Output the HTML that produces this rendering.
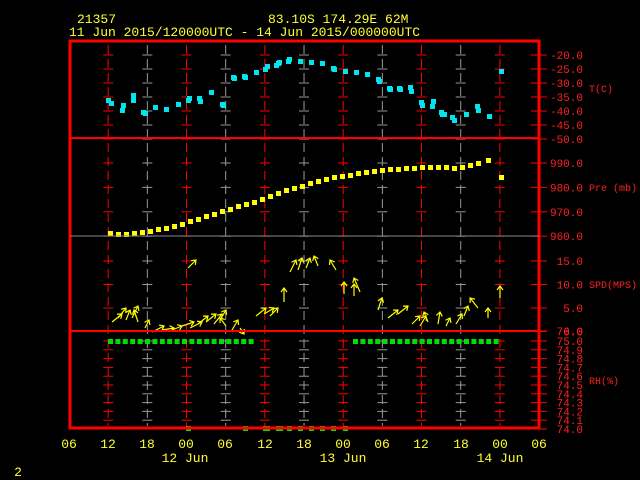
<!DOCTYPE html>
<html><head><style>
html,body{margin:0;padding:0;background:#000;}
svg{display:block;}
text{font-family:"Liberation Mono",monospace;}
</style></head><body>
<svg width="640" height="480" viewBox="0 0 640 480" xmlns="http://www.w3.org/2000/svg">
<rect width="640" height="480" fill="#000"/>
<g fill="#ffff33" font-size="13">
<text x="77" y="23">21357</text>
<text x="268" y="23">83.10S  174.29E   62M</text>
<text x="69" y="36">11 Jun 2015/120000UTC - 14 Jun 2015/000000UTC</text>
</g>
<g id="grid"></g>
<g id="data"></g>
<rect x="70" y="41" width="469" height="387" fill="none" stroke="#ff0000" stroke-width="3"/>
<line x1="70" y1="138" x2="539" y2="138" stroke="#ff0000" stroke-width="2"/>
<line x1="70" y1="236" x2="539" y2="236" stroke="#888" stroke-width="1"/>
<line x1="70" y1="331" x2="539" y2="331" stroke="#ff0000" stroke-width="2"/>
<g fill="#ff2020" font-size="11" text-anchor="end" id="rl"></g>
<g fill="#ff2020" font-size="10">
<text x="589" y="92">T(C)</text>
<text x="589" y="191">Pre (mb)</text>
<text x="589" y="288">SPD(MPS)</text>
<text x="589" y="384">RH(%)</text>
</g>
<g fill="#ffff33" font-size="13" text-anchor="middle">
<text x="69" y="448">06</text><text x="108" y="448">12</text><text x="147" y="448">18</text><text x="186" y="448">00</text><text x="225" y="448">06</text><text x="265" y="448">12</text><text x="304" y="448">18</text><text x="343" y="448">00</text><text x="382" y="448">06</text><text x="421" y="448">12</text><text x="461" y="448">18</text><text x="500" y="448">00</text><text x="539" y="448">06</text>
<text x="185" y="462">12 Jun</text><text x="343" y="462">13 Jun</text><text x="500" y="462">14 Jun</text>
<text x="18" y="476">2</text>
</g>
</svg>
<script>
const NS="http://www.w3.org/2000/svg";
const g=document.getElementById('grid'),d=document.getElementById('data'),rl=document.getElementById('rl');
function el(p,t,a){const e=document.createElementNS(NS,t);for(const k in a)e.setAttribute(k,a[k]);p.appendChild(e);return e;}
const xs=[];for(let k=1;k<12;k++)xs.push(69+k*39.17);
const ys=[];
for(let i=0;i<=6;i++)ys.push([55+i*14,(-20-5*i).toFixed(1)]);
for(let i=0;i<=3;i++)ys.push([163+i*24.4,(990-10*i).toFixed(1)]);
for(let i=0;i<=3;i++)ys.push([261+i*23.5,(15-5*i).toFixed(1)]);
for(let i=0;i<=10;i++)ys.push([341+i*8.8,(75-0.1*i).toFixed(1)]);
ys.push([331,"76.0"]);
xs.forEach((x,i)=>{
 const c=i%2==0?"#ff0000":"#999";
 el(g,'line',{x1:x,y1:45,x2:x,y2:426,stroke:c,'stroke-width':1,'stroke-dasharray':'9,5'});
 ys.forEach(([y])=>{if(y<428)el(g,'line',{x1:x-5,y1:y,x2:x+5,y2:y,stroke:c,'stroke-width':1});});
});
ys.forEach(([y,l])=>{
 el(g,'line',{x1:531,y1:y,x2:547,y2:y,stroke:'#ff0000','stroke-width':1});
 const t=el(rl,'text',{x:583,y:y+4});t.textContent=l;
});
const T=[[108,100],[111,103],[122,110],[123,105],[133,100],[133,95],[143,112],[145,113],[155,107],[166,109],[178,104],[188,100],[189,98],[199,98],[200,101],[211,92],[222,104],[223,105],[233,77],[234,78],[244,76],[245,77],[256,72],[265,69],[267,66],[276,65],[278,63],[279,62],[288,61],[289,59],[300,61],[311,62],[322,63],[333,68],[334,69],[345,71],[356,72],[367,74],[378,79],[379,81],[389,88],[390,89],[399,88],[400,89],[410,87],[411,91],[421,102],[422,105],[432,106],[433,101],[441,112],[442,114],[444,114],[452,117],[454,120],[466,114],[477,106],[478,110],[489,116],[501,71]];
T.forEach(([x,y])=>el(d,'rect',{x:x-2,y:y-2,width:5,height:5,fill:'#00e5ee'}));
const P=[[110,233],[118,234],[126,234],[134,233],[142,232],[150,231],[158,229],[166,228],[174,226],[182,224],[190,221],[198,219],[206,216],[214,214],[222,211],[230,209],[238,206],[246,204],[254,202],[262,199],[270,196],[278,193],[286,190],[294,188],[302,186],[310,183],[318,181],[326,179],[334,177],[342,176],[350,175],[358,173],[366,172],[374,171],[382,170],[390,169],[398,169],[406,168],[414,168],[422,167],[430,167],[438,167],[446,167],[454,168],[462,167],[470,165],[478,163],[488,160],[501,177]];
P.forEach(([x,y])=>el(d,'rect',{x:x-2,y:y-2,width:5,height:5,fill:'#ffff00'}));
const W=[[112,322,10,-8],[118,318,8,-10],[126,320,4,-10],[132,318,6,-12],[138,322,-4,-12],[145,328,4,-8],[152,332,12,-6],[162,330,12,-2],[172,330,10,-4],[182,326,12,-4],[190,328,12,-6],[188,268,8,-8],[198,324,10,-8],[206,322,10,-8],[214,324,8,-10],[220,320,6,-10],[226,326,-6,-8],[232,330,6,-10],[240,328,4,6],[256,316,10,-8],[264,314,10,-6],[270,316,8,-8],[284,302,0,-14],[290,272,6,-12],[298,270,4,-12],[306,268,4,-10],[318,266,-4,-10],[336,270,-6,-10],[344,294,0,-12],[354,296,0,-12],[360,292,-6,-14],[378,310,4,-12],[388,318,10,-8],[398,314,10,-8],[412,324,8,-8],[420,326,6,-10],[428,322,-4,-10],[438,324,2,-12],[446,326,4,-8],[456,324,6,-10],[464,316,4,-10],[478,308,-8,-10],[488,318,0,-10],[500,298,0,-12]];
W.forEach(([x,y,dx,dy])=>{
 const tx=x+dx,ty=y+dy,L=Math.hypot(dx,dy),ux=dx/L,uy=dy/L;
 el(d,'line',{x1:x,y1:y,x2:tx,y2:ty,stroke:'#ffff00','stroke-width':1.2});
 const hx=-ux*4,hy=-uy*4;
 el(d,'polyline',{points:`${tx+hx-uy*3},${ty+hy+ux*3} ${tx},${ty} ${tx+hx+uy*3},${ty+hy-ux*3}`,fill:'none',stroke:'#ffff00','stroke-width':1.2});
});
for(let x=110;x<=258;x+=7.4)el(d,'rect',{x:x-2,y:339,width:5,height:5,fill:'#00dd00'});
for(let x=355;x<=502;x+=7.4)el(d,'rect',{x:x-2,y:339,width:5,height:5,fill:'#00dd00'});
[188,245,265,267,278,280,289,300,311,322,333,345].forEach(x=>el(d,'rect',{x:x-2,y:426,width:5,height:5,fill:'#00dd00'}));
</script>
</body></html>
